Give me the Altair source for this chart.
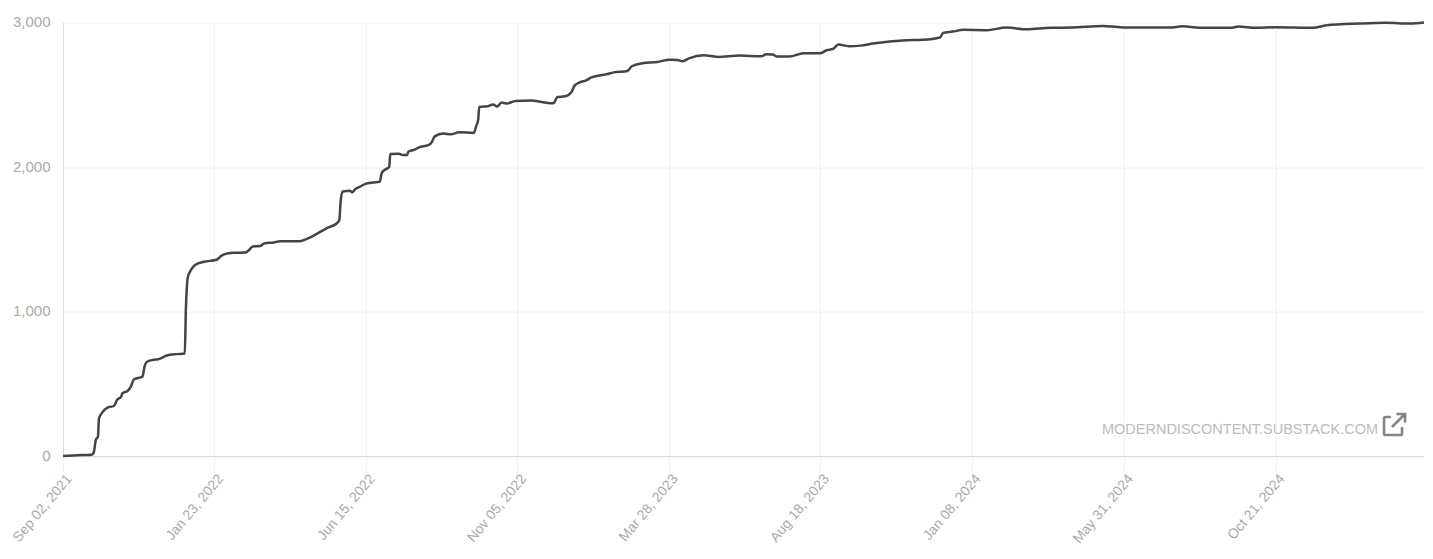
import altair as alt
import pandas as pd

START = "2021-09-02"
days = [0,14,27,29,31,33,34,37,42,48,51,55,56,61,64,67,75,77,79,85,90,98,107,115,116,118,121,125,133,145,148,152,161,172,176,179,186,190,199,205,223,235,242,250,258,261,262,264,271,273,276,280,285,293,299,301,304,308,309,317,321,325,326,332,336,345,348,351,359,366,374,388,390,392,393,401,406,410,414,419,427,442,452,463,467,474,480,483,488,494,499,513,520,533,537,547,561,573,580,585,591,605,618,639,659,664,670,674,686,699,715,721,727,732,742,753,765,783,796,812,828,831,840,850,872,891,910,932,953,982,991,1004,1045,1057,1073,1102,1110,1126,1145,1180,1193,1224,1249,1272,1285]
values = [0,5,9,23,111,134,261,300,335,346,388,411,434,450,480,531,549,619,651,665,670,695,705,709,1011,1242,1289,1323,1344,1358,1376,1395,1406,1408,1427,1450,1453,1471,1478,1487,1487,1519,1547,1580,1607,1635,1751,1831,1836,1824,1848,1862,1882,1893,1898,1959,1981,2000,2090,2092,2083,2083,2106,2120,2136,2152,2170,2212,2231,2226,2240,2236,2281,2328,2416,2420,2432,2418,2446,2439,2457,2461,2450,2441,2485,2489,2517,2563,2586,2600,2620,2642,2655,2665,2697,2718,2727,2743,2741,2732,2752,2773,2762,2771,2766,2780,2778,2764,2764,2787,2787,2808,2817,2847,2836,2840,2854,2870,2877,2880,2896,2928,2937,2949,2947,2965,2953,2963,2965,2975,2972,2965,2965,2974,2963,2963,2972,2963,2967,2963,2981,2993,2998,2993,3000]
tick_dates = ["2021-09-02","2022-01-23","2022-06-15","2022-11-05","2023-03-28","2023-08-18","2024-01-08","2024-05-31","2024-10-21"]
y_ticks = [0,1000,2000,3000]
watermark = "MODERNDISCONTENT.SUBSTACK.COM"

start = pd.Timestamp(START)
dates = [(start + pd.Timedelta(days=d)).strftime("%Y-%m-%d") for d in days]
df = pd.DataFrame({"date": dates, "value": values})
tick_values = [alt.DateTime(year=int(t[:4]), month=int(t[5:7]), date=int(t[8:]), utc=True) for t in tick_dates]

x = alt.X("date:T", title=None,
          scale=alt.Scale(type="utc", domain=[dates[0], dates[-1]]),
          axis=alt.Axis(values=tick_values, labelExpr="utcFormat(datum.value, '%b %d, %Y')",
                        labelAngle=-50, labelAlign="right", labelBaseline="middle",
                        labelFont="Liberation Sans", labelFontSize=14, labelColor="#aaaaaa",
                        labelPadding=0, labelOffset=6, labelOverlap=False, labelBound=False, labelFlush=False,
                        tickColor="#f2f2f2", tickSize=20, tickWidth=1,
                        domainColor="#dddddd", domainWidth=1,
                        gridColor="#f2f2f2", grid=True))
y = alt.Y("value:Q", title=None,
          scale=alt.Scale(domain=[0, 3000]),
          axis=alt.Axis(values=y_ticks, format=",d", labelFont="Liberation Sans", labelFontSize=15,
                        labelColor="#aaaaaa", labelPadding=13, labelOffset=-1, ticks=False,
                        domainColor="#dddddd", domainWidth=1,
                        gridColor="#f2f2f2", grid=True))

line = alt.Chart(df).mark_line(color="#444444", strokeWidth=2.5, interpolate="monotone",
                               strokeJoin="round", clip=False).encode(x=x, y=y)

note_df = pd.DataFrame({"label": [watermark]})
note = alt.Chart(note_df).mark_text(font="Liberation Sans", fontSize=14.5, color="#bbbbbb", align="right",
                                    baseline="middle").encode(
    text="label:N", x=alt.value(1315), y=alt.value(407))
icon_path = "M-0.25,-0.67 L-0.7,-0.67 Q-0.83,-0.67 -0.83,-0.54 L-0.83,0.7 Q-0.83,0.83 -0.7,0.83 L0.54,0.83 Q0.67,0.83 0.67,0.7 L0.67,0.17 M-0.17,0.17 L0.92,-0.92 M0.2,-0.92 L0.92,-0.92 L0.92,-0.2"
icon = alt.Chart(note_df).mark_point(shape=icon_path, size=576, filled=False, color="#777777",
                                     strokeWidth=2.6, opacity=0.9).encode(
    x=alt.value(1331), y=alt.value(402.5))

chart = alt.layer(line, note, icon).properties(
    width=1361, height=433.5,
    autosize=alt.AutoSizeParams(type="none"),
    padding={"left": 55, "top": 14.5, "right": 0.5, "bottom": 94},
).configure_view(stroke=None)

chart.save("out.html", embed_options={"renderer": "svg", "actions": False})
